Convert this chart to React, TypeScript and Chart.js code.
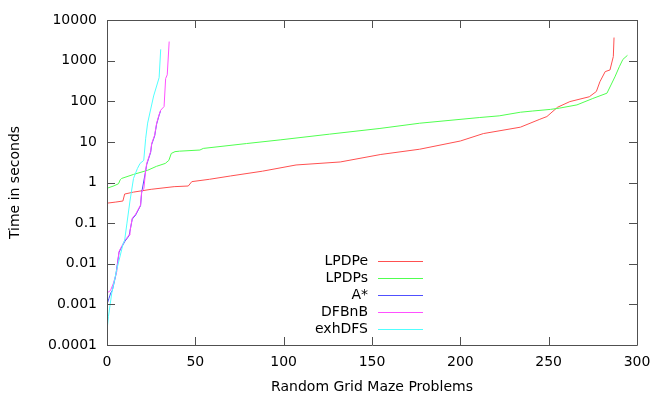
import React, { useEffect, useRef } from "react";
import { Chart, registerables } from "chart.js";

Chart.register(...registerables);

const FONT = "'DejaVu Sans', 'Liberation Sans', sans-serif";

// series data: problem index (sorted) vs time in seconds
const lpdpeX = [0, 5, 9, 10, 15, 25, 38, 46, 48, 58, 70, 88, 107, 132, 155, 177, 200, 213, 234, 245, 249, 255, 262, 273, 277, 279, 282, 284.7, 286.6, 287];
const lpdpeY = [0.31, 0.33, 0.35, 0.52, 0.58, 0.68, 0.79, 0.82, 1.05, 1.2, 1.45, 1.9, 2.7, 3.2, 4.9, 6.6, 10.5, 16, 23, 36, 42, 71, 98, 129, 174, 302, 537, 589, 1260, 3700];

const lpdpsX = [0, 4, 6.5, 7.5, 8.3, 15, 23, 28, 33, 35, 36.4, 38.5, 41, 52.6, 54.5, 79, 98, 126, 154.5, 177, 211, 222, 234, 241, 251, 256, 266, 275, 283, 287.5, 290, 292, 294.6];
const lpdpsY = [0.72, 0.83, 0.93, 1.17, 1.26, 1.58, 2.0, 2.5, 2.95, 3.5, 5.2, 5.75, 5.9, 6.3, 6.9, 9.1, 11.2, 15.5, 21.4, 28.8, 39.8, 43.7, 53.7, 57.5, 63, 67.6, 81.3, 117, 158, 398, 708, 1070, 1350];

const astarX = [0, 1.1, 2.1, 3, 4.9, 6.8, 7.7, 10.2, 12.5, 14.3, 16.2, 19, 19.6, 21.9, 22.5, 24.7, 25.3, 27, 27.6, 28.1, 29.4, 30.3];
const astarY = [0.001, 0.0014, 0.0019, 0.0022, 0.005, 0.019, 0.023, 0.036, 0.049, 0.126, 0.158, 0.27, 0.56, 1.95, 2.8, 5.5, 8.7, 14.1, 20.4, 27.5, 43.7, 57.5];

const dfbnbX = [0, 2, 3.6, 4.9, 5.5, 6.8, 7.7, 10.2, 12.5, 13, 14.3, 16.2, 19, 19.6, 20.9, 21.9, 22.5, 24.7, 25.3, 27, 27.6, 28.1, 29.4, 30.4, 32.3, 33.2, 34.1, 35.2];
const dfbnbY = [0.0019, 0.0022, 0.0033, 0.0052, 0.0063, 0.02, 0.024, 0.038, 0.051, 0.063, 0.132, 0.166, 0.28, 0.59, 0.72, 2.04, 2.95, 5.75, 9.1, 14.8, 21.4, 28.8, 45.7, 60.3, 74, 363, 447, 2950];

const exhdfsX = [0, 0.8, 2.7, 5.5, 9.2, 10, 11.3, 13, 15, 17.2, 18.7, 20.8, 21.9, 23, 26.4, 29.5, 30.4];
const exhdfsY = [0.00022, 0.0005, 0.0019, 0.0071, 0.032, 0.038, 0.1, 0.35, 1.26, 2.2, 2.95, 3.5, 12.3, 29, 135, 380, 1900];

const seriesNames = ["LPDPe", "LPDPs", "A*", "DFBnB", "exhDFS"];
const seriesColors = ["#ff5050", "#50ff50", "#5050ff", "#ff50ff", "#50ffff"];

const xTicks = [0, 50, 100, 150, 200, 250, 300];
const yTicks = [0.0001, 0.001, 0.01, 0.1, 1, 10, 100, 1000, 10000];
const yTickLabels = ["0.0001", "0.001", "0.01", "0.1", "1", "10", "100", "1000", "10000"];

const xTitle = "Random Grid Maze Problems";
const yTitle = "Time in seconds";

const zip = (xs: number[], ys: number[]) => xs.map((x, i) => ({ x, y: ys[i] }));

const framePlugin = {
  id: "frame",
  afterDatasetsDraw(chart: any) {
    const { ctx, chartArea, scales } = chart;
    const { left, right, top, bottom } = chartArea;
    ctx.save();
    ctx.strokeStyle = "#505050";
    ctx.lineWidth = 1;
    ctx.beginPath();
    ctx.rect(Math.round(left) + 0.5, Math.round(top) + 0.5, Math.round(right - left), Math.round(bottom - top));
    const tl = 8;
    for (const v of xTicks) {
      const px = Math.round(scales.x.getPixelForValue(v)) + 0.5;
      ctx.moveTo(px, bottom);
      ctx.lineTo(px, bottom - tl);
      ctx.moveTo(px, top);
      ctx.lineTo(px, top + tl);
    }
    for (const v of yTicks) {
      const py = Math.round(scales.y.getPixelForValue(v)) + 0.5;
      ctx.moveTo(left, py);
      ctx.lineTo(left + tl, py);
      ctx.moveTo(right, py);
      ctx.lineTo(right - tl, py);
    }
    ctx.stroke();

    // legend: text right-aligned, sample line to the right
    ctx.font = `14px ${FONT}`;
    ctx.textAlign = "right";
    ctx.textBaseline = "middle";
    const textRight = left + 261;
    const lineX0 = left + 271;
    const lineX1 = left + 316;
    const rowY0 = top + 241;
    const rowH = 17;
    seriesNames.forEach((name, i) => {
      const y = rowY0 + i * rowH;
      ctx.fillStyle = "#000";
      ctx.fillText(name, textRight, y);
      ctx.strokeStyle = seriesColors[i];
      ctx.beginPath();
      ctx.moveTo(lineX0, Math.round(y) + 0.5);
      ctx.lineTo(lineX1, Math.round(y) + 0.5);
      ctx.stroke();
    });
    ctx.restore();
  },
};

export default function App() {
  const ref = useRef<HTMLCanvasElement | null>(null);
  useEffect(() => {
    if (!ref.current) return;
    const data = [
      zip(lpdpeX, lpdpeY),
      zip(lpdpsX, lpdpsY),
      zip(astarX, astarY),
      zip(dfbnbX, dfbnbY),
      zip(exhdfsX, exhdfsY),
    ];
    const chart = new Chart(ref.current, {
      type: "line",
      data: {
        datasets: seriesNames.map((name, i) => ({
          label: name,
          data: data[i],
          borderColor: seriesColors[i],
          backgroundColor: seriesColors[i],
          borderWidth: 1,
          pointRadius: 0,
          tension: 0,
          fill: false,
          order: 4 - i,
        })),
      },
      options: {
        responsive: false,
        animation: false,
        devicePixelRatio: 1,
        layout: { padding: { left: 0, top: 20, right: 27, bottom: 0 } },
        plugins: { legend: { display: false }, tooltip: { enabled: false } },
        scales: {
          x: {
            type: "linear",
            min: 0,
            max: 300,
            afterBuildTicks: (s: any) => {
              s.ticks = xTicks.map((v) => ({ value: v }));
            },
            afterFit: (s: any) => {
              s.height = 54;
            },
            grid: { display: false, drawTicks: false },
            border: { display: false },
            ticks: { color: "#000", font: { family: FONT, size: 14 }, padding: 9, maxRotation: 0 },
            title: { display: true, text: xTitle, color: "#000", font: { family: FONT, size: 14 }, padding: { top: 0, bottom: 3 } },
          },
          y: {
            type: "logarithmic",
            min: 0.0001,
            max: 10000,
            afterBuildTicks: (s: any) => {
              s.ticks = yTicks.map((v) => ({ value: v }));
            },
            afterFit: (s: any) => {
              s.width = 107;
            },
            grid: { display: false, drawTicks: false },
            border: { display: false },
            ticks: {
              color: "#000",
              font: { family: FONT, size: 14 },
              padding: 10,
              callback: (v: any) => {
                const i = yTicks.indexOf(Number(v));
                return i >= 0 ? yTickLabels[i] : "";
              },
            },
            title: { display: true, text: yTitle, color: "#000", font: { family: FONT, size: 14 }, padding: { top: 7, bottom: 0 } },
          },
        },
      },
      plugins: [framePlugin],
    });
    return () => chart.destroy();
  }, []);
  return (
    <div style={{ position: "fixed", left: 0, top: 0, width: 664, height: 399, background: "#fff" }}>
      <canvas ref={ref} width={664} height={399} style={{ display: "block" }} />
    </div>
  );
}
